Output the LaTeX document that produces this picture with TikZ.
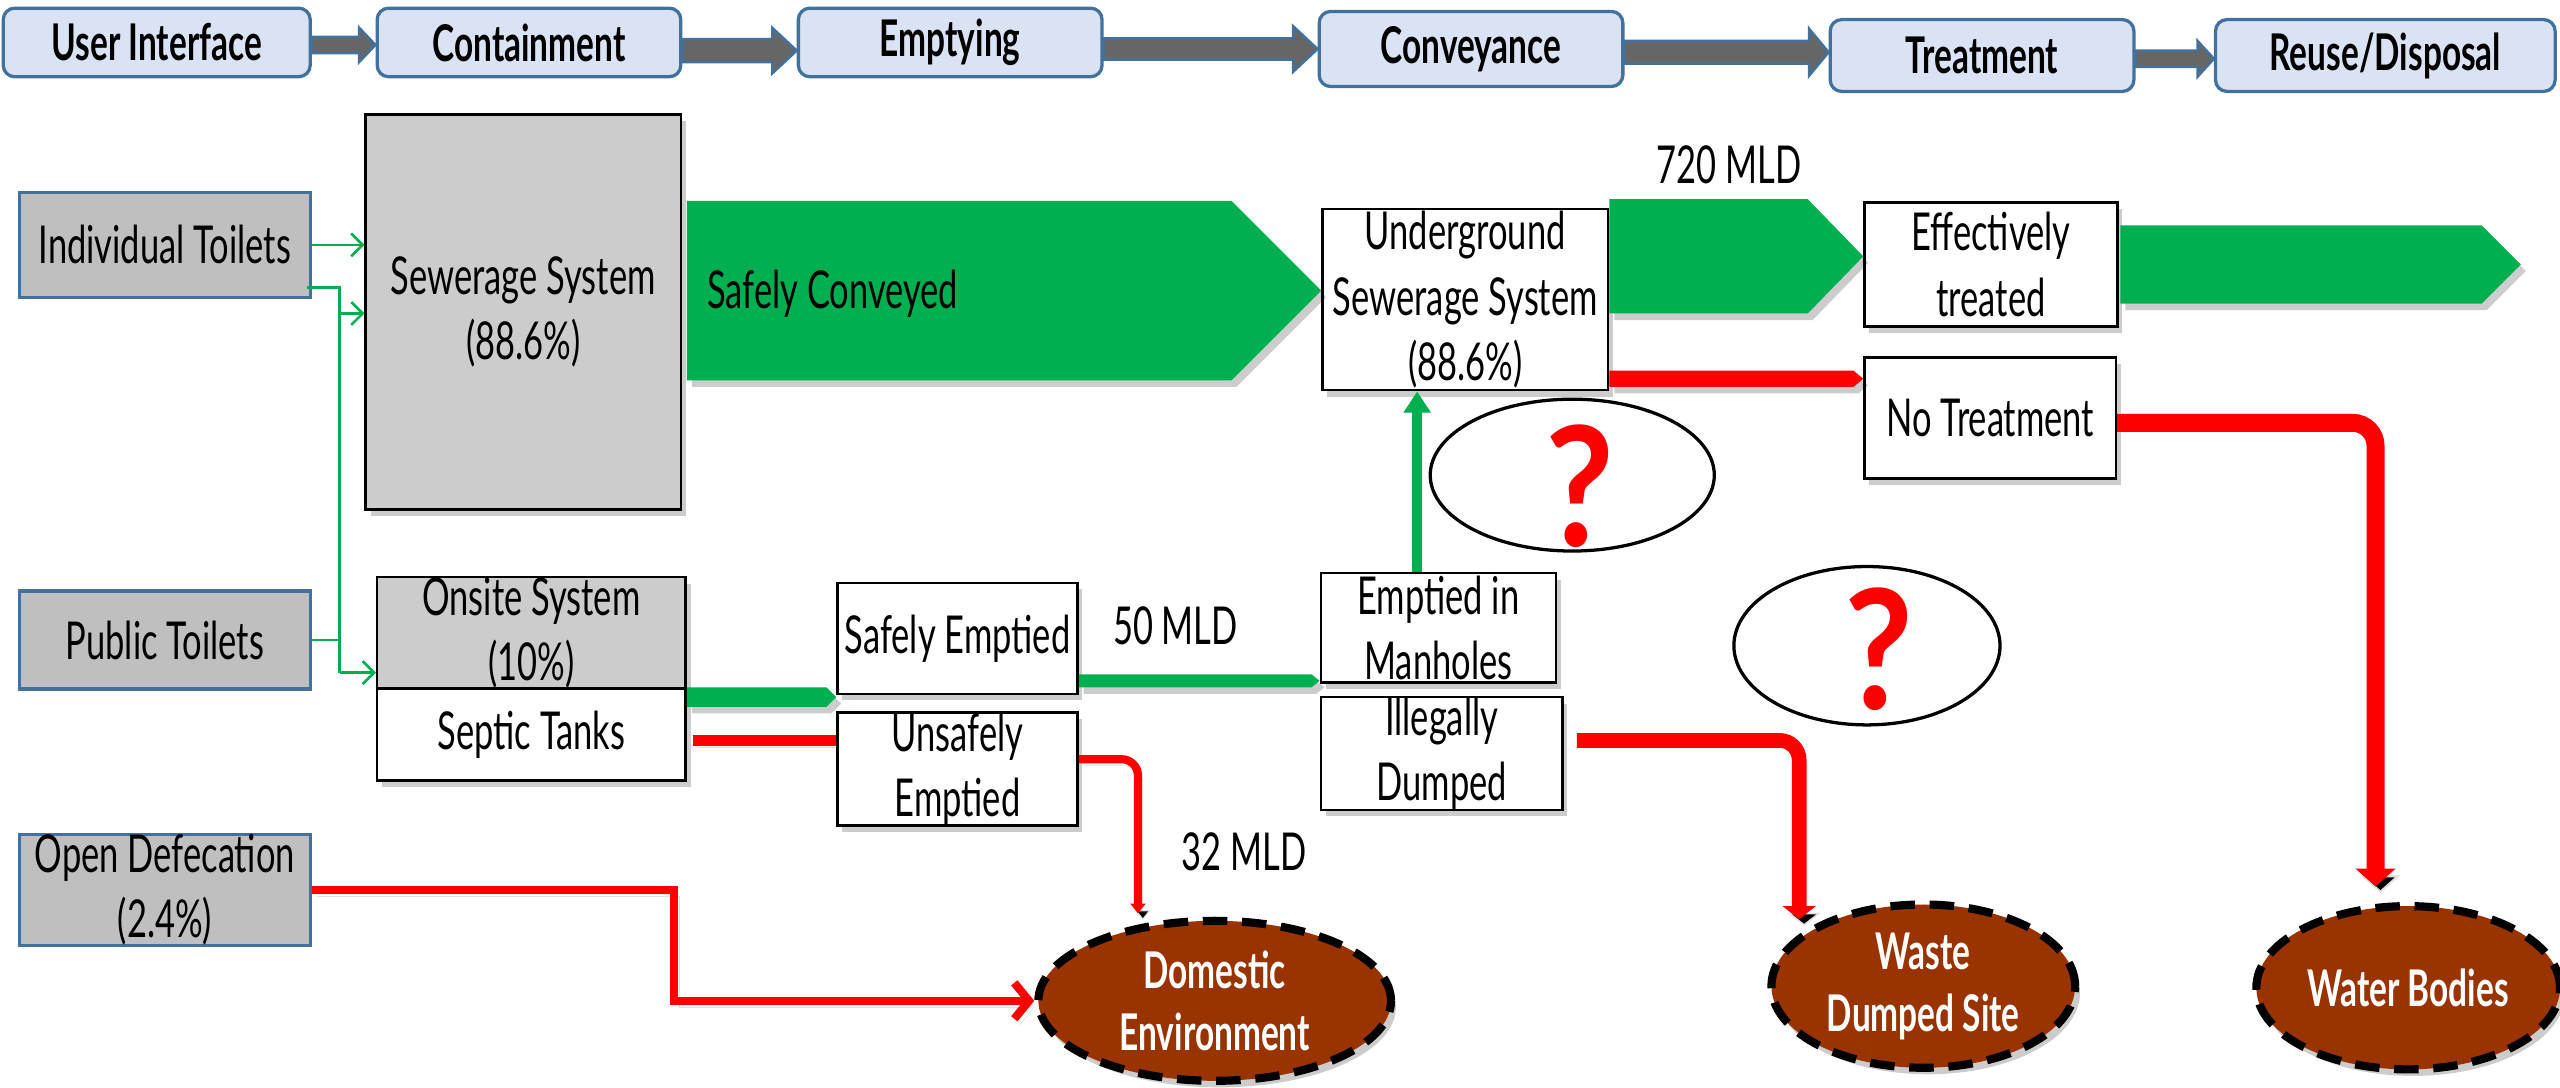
\documentclass[tikz,border=0pt]{standalone}
\usepackage{fontspec}
\setmainfont{Lato}[FakeStretch=0.66]
\newfontfamily\markfont{Lato}[FakeStretch=0.9]
\usetikzlibrary{calc,shadows,arrows.meta,shapes.geometric}

\definecolor{topfill}{HTML}{DAE3F3}
\definecolor{topline}{HTML}{41719C}
\definecolor{arrgray}{HTML}{666666}
\definecolor{srcgray}{HTML}{BFBFBF}
\definecolor{boxgray}{HTML}{CCCCCC}
\definecolor{sfgreen}{HTML}{00B050}
\definecolor{usred}{HTML}{FF0000}
\definecolor{soil}{HTML}{993300}

\tikzset{
  x=1pt, y=-1pt,
  softshadow/.style={drop shadow={shadow xshift=3pt, shadow yshift=-4pt, opacity=0.2, fill=black}},
  lineshadow/.style={preaction={draw=black, draw opacity=0.12, transform canvas={shift={(3pt,-4pt)}}}},
  base/.style={font=\fontsize{32}{40}\selectfont, align=center, inner sep=0pt},
  stage/.style={base, font=\fontsize{31}{36}\selectfont\bfseries, rounded corners=7pt,
    fill=topfill, draw=topline, line width=2pt},
  stagelink/.style={fill=arrgray, draw=topline, line width=1.5pt},
  source/.style={base, fill=srcgray, draw=topline, line width=2pt},
  flowbox/.style={base, fill=white, draw=black, line width=1.5pt, softshadow},
  greenblock/.style={fill=sfgreen, softshadow},
  redblock/.style={fill=usred, softshadow},
  thingreen/.style={draw=sfgreen, line width=1.6pt},
  thinarrow/.style={thingreen, -{Straight Barb[length=7pt,width=14pt]}},
  redpipe/.style={draw=usred, lineshadow},
  sink/.style={ellipse, base, font=\fontsize{31}{38}\selectfont\bfseries, text=white,
    fill=soil, draw=black, line width=5pt, dash pattern=on 15pt off 9pt, softshadow},
  query/.style={ellipse, draw=black, line width=2pt, fill=white},
  qmark/.style={font=\markfont\fontsize{102}{104}\selectfont\bfseries, text=usred, inner sep=0pt}
}

% block arrow between two stage boxes: from, to, centre y, half shaft, half head, head length
\newcommand\stagearrow[6]{%
  \draw[stagelink]
    ($(#1.east |- 0,#3)+(0,-#4)$) --
    ($(#2.west |- 0,#3)+(-#6,-#4)$) --
    ($(#2.west |- 0,#3)+(-#6,-#5)$) --
    (#2.west |- 0,#3) --
    ($(#2.west |- 0,#3)+(-#6,#5)$) --
    ($(#2.west |- 0,#3)+(-#6,#4)$) --
    ($(#1.east |- 0,#3)+(0,#4)$) -- cycle;}

% pentagon flow arrow: style, start point, tip point, half height, head length
\newcommand\flowarrow[5]{%
  \fill[#1]
    ($(#2)+(0,-#4)$) --
    ($(#3)+(-#5,-#4)$) --
    (#3) --
    ($(#3)+(-#5,#4)$) --
    ($(#2)+(0,#4)$) -- cycle;}

\begin{document}
\begin{tikzpicture}
\useasboundingbox (0,0) rectangle (1568,666);

% ---- service chain stages
\node[stage, minimum width=188pt, minimum height=42pt] (ui) at (96,26) {User Interface};
\node[stage, minimum width=186pt, minimum height=42pt] (cont) at (324,26) {Containment};
\node[stage, minimum width=186pt, minimum height=42pt] (empt) at (582,26) {Emptying};
\node[stage, minimum width=186pt, minimum height=46pt] (conv) at (901,30) {Conveyance};
\node[stage, minimum width=186pt, minimum height=44pt] (treat) at (1214,34) {Treatment};
\node[stage, minimum width=208pt, minimum height=44pt] (reuse) at (1461,34) {Reuse/Disposal};

\stagearrow{ui}{cont}{27.5}{5}{10.5}{10}
\stagearrow{cont}{empt}{31}{7}{14}{15}
\stagearrow{empt}{conv}{30}{6.5}{14}{15}
\stagearrow{conv}{treat}{32}{7}{14.5}{12}
\stagearrow{treat}{reuse}{36}{5}{11}{10}

% ---- sources
\node[source, minimum width=178pt, minimum height=64pt] (it) at (101,150) {Individual Toilets};
\node[source, minimum width=178pt, minimum height=60pt] (pt) at (101,392) {Public Toilets};
\node[source, minimum width=178pt, minimum height=65pt] (od) at (101,545) {Open Defecation\\(2.4\%)};

% ---- containment and later stages
\node[flowbox, fill=boxgray, minimum width=193pt, minimum height=242pt] (sew) at (320.5,191) {Sewerage System\\(88.6\%)};
\node[flowbox, fill=boxgray, minimum width=189pt, minimum height=67pt] (os) at (325.5,387.5) {Onsite System\\(10\%)};
\node[flowbox, minimum width=189pt, minimum height=56pt] (st) at (325.5,450) {Septic Tanks};
\node[flowbox, minimum width=147pt, minimum height=68pt] (se) at (586.5,391) {Safely Emptied};
\node[flowbox, minimum width=147pt, minimum height=68pt] (ue) at (586.5,471) {Unsafely\\Emptied};
\node[flowbox, minimum width=144pt, minimum height=67pt] (mh) at (881,384.5) {Emptied in\\Manholes};
\node[flowbox, minimum width=148pt, minimum height=69pt] (il) at (883,461.5) {Illegally\\Dumped};
\node[flowbox, minimum width=175pt, minimum height=111pt] (ug) at (897.5,183.5) {Underground\\Sewerage System\\(88.6\%)};
\node[flowbox, minimum width=155pt, minimum height=76pt] (et) at (1219.5,162) {Effectively\\treated};
\node[flowbox, minimum width=154pt, minimum height=74pt] (nt) at (1219,256) {No Treatment};

% ---- final destinations
\node[sink, minimum width=216pt, minimum height=98pt] (de) at (744,613) {Domestic\\Environment};
\node[sink, minimum width=186pt, minimum height=100pt] (wd) at (1178,604) {Waste\\Dumped Site};
\node[sink, minimum width=186pt, minimum height=100pt] (wb) at (1475,605) {Water Bodies};

% ---- unknown fates
\node[query, minimum width=174pt, minimum height=93pt] (q1) at (963,291) {};
\node[qmark] (q1m) at (968,298) {?};
\node[query, minimum width=163pt, minimum height=97pt] (q2) at (1143.5,395.5) {};
\node[qmark] (q2m) at (1151,397.5) {?};

% ---- toilets to containment
\draw[thinarrow] (it.east) -- (sew.west |- it.east);
\draw[thingreen] ($(it.east |- 0,176)+(-3,0)$) -- (208,176) -- (208,412);
\draw[thinarrow] (208,412) -- (os.west |- 0,412);
\draw[thinarrow] (208,192) -- (sew.west |- 0,192);
\draw[thingreen] (pt.east) -- (208,392);

% ---- safe chain
\coordinate (sc-a) at ($(sew.east |- 0,178)+(3,0)$);
\flowarrow{greenblock}{sc-a}{ug.west |- 0,178}{55}{55}
\node[base, anchor=west] (sc-t) at (433,180) {Safely Conveyed};
\flowarrow{greenblock}{ug.east |- 0,157}{et.west |- 0,157}{35}{34}
\coordinate (et-a) at ($(et.east |- 0,162)+(1,0)$);
\coordinate (reuse-end) at (1544,162);
\flowarrow{greenblock}{et-a}{reuse-end}{24}{24}
\flowarrow{greenblock}{st.east |- 0,427}{se.west |- 0,427}{6}{6}
\flowarrow{greenblock}{se.east |- 0,417}{mh.west |- 0,417}{4}{5}
\draw[draw=sfgreen, line width=6pt, -{Triangle[length=13pt,width=16pt]}]
  (mh.north -| 868,0) -- (ug.south -| 868,0);

% ---- unsafe chain
\flowarrow{redblock}{ug.east |- 0,232}{nt.west |- 0,232}{5}{6}
\draw[redpipe, line width=11pt, rounded corners=14pt, -{Triangle[length=11pt,width=24pt]}]
  (nt.east |- 0,259) -| ($(wb.center)+(-20,-62)$);
\draw[redpipe, line width=9pt, rounded corners=12pt, -{Triangle[length=8pt,width=20pt]}]
  ($(il.east |- 0,453.5)+(8,0)$) -| ($(wd.center)+(-76,-41)$);
\draw[redpipe, line width=7pt] ($(st.east |- 0,453.5)+(4,0)$) -- (ue.west |- 0,453.5);
\draw[redpipe, line width=5pt, rounded corners=10pt, -{Triangle[length=6pt,width=9pt]}]
  (ue.east |- 0,465) -| ($(de.north)+(-47,-2)$);
\draw[redpipe, line width=5pt, -{Straight Barb[length=9pt,width=22pt]}]
  (od.east) -| (413,580) |- (de.west);

% ---- flow volumes
\node[base] (l720) at (1059,101) {720 MLD};
\node[base] (l50) at (720,383) {50 MLD};
\node[base] (l32) at (762,522) {32 MLD};
\end{tikzpicture}
\end{document}
